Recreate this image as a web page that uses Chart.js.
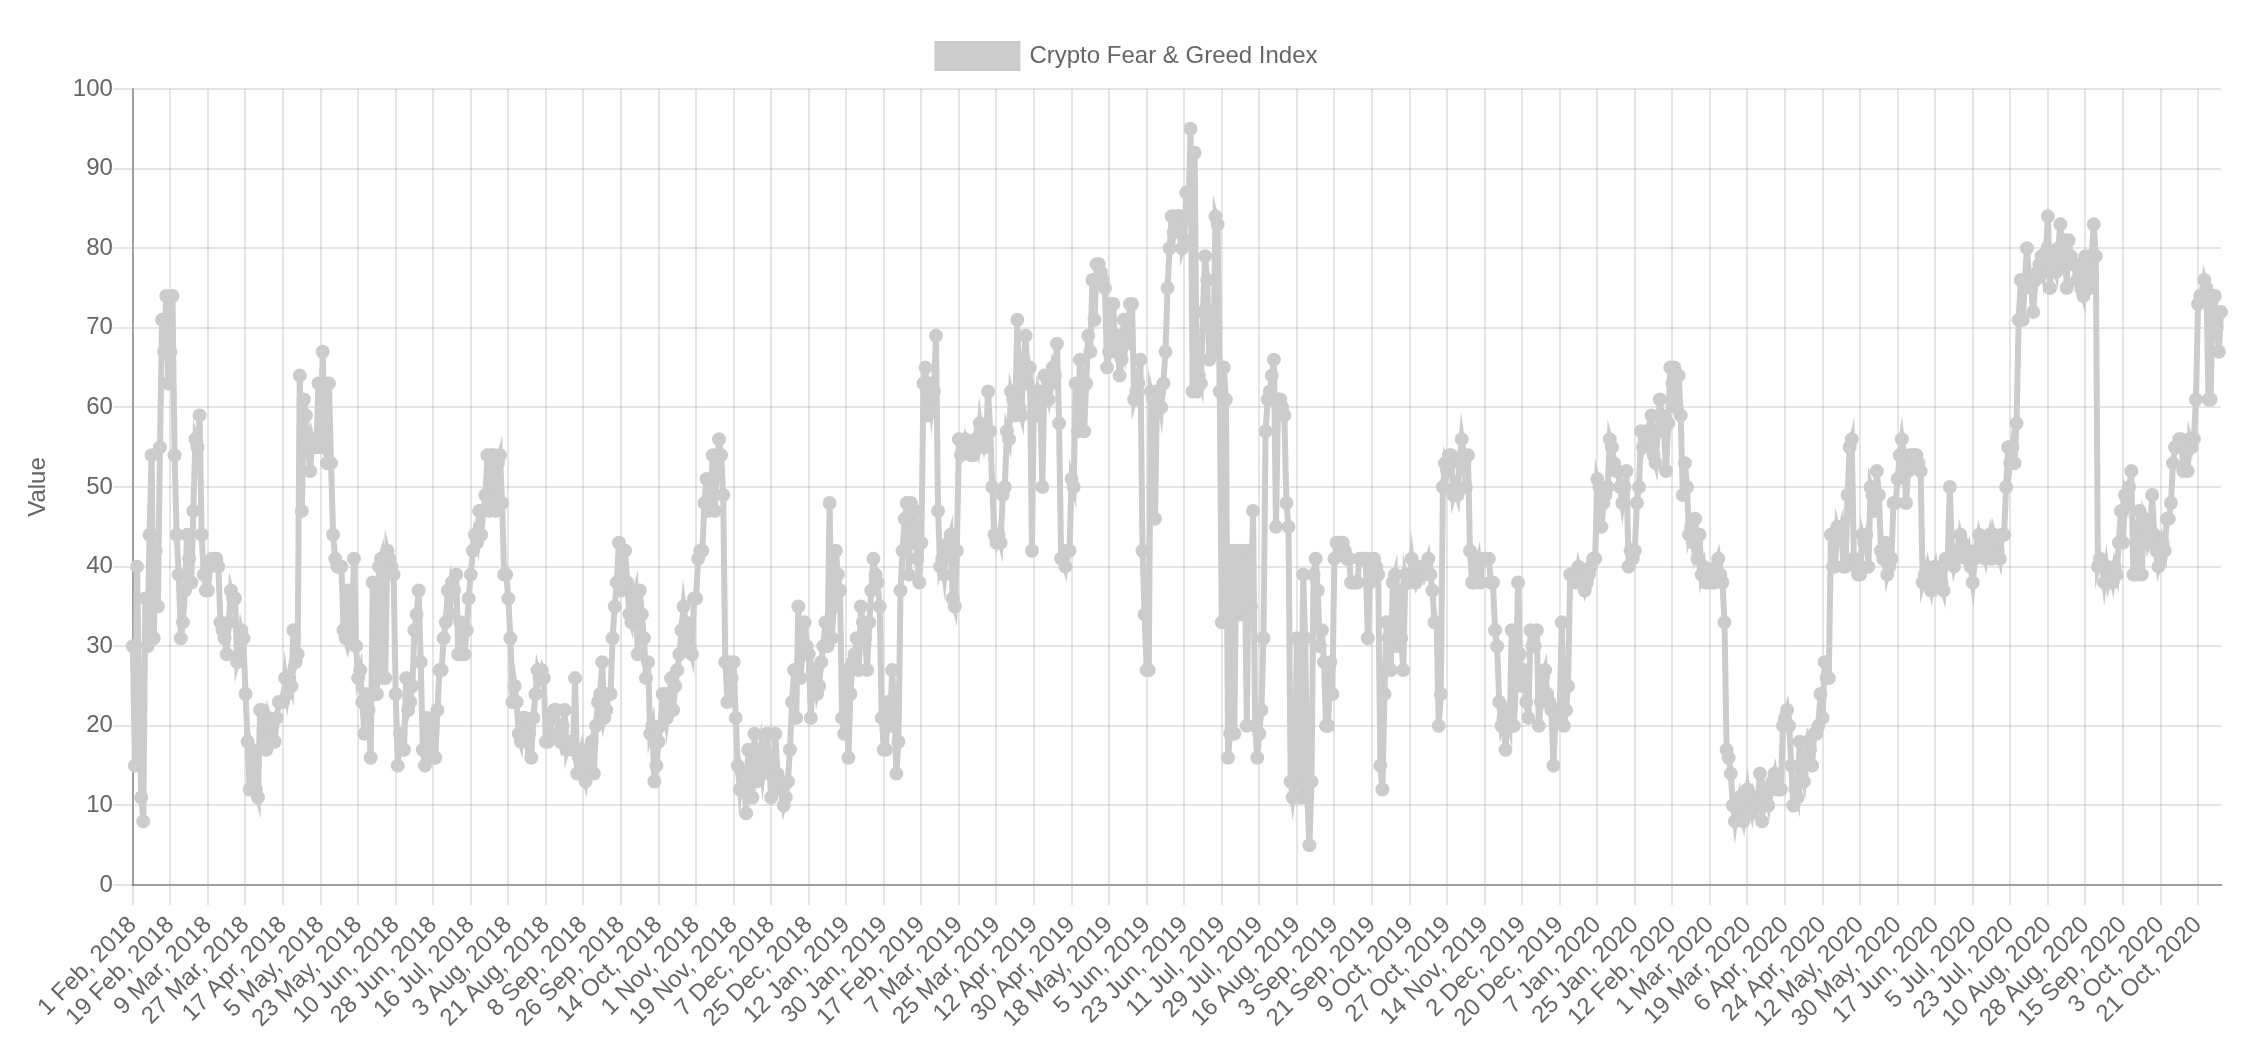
<!DOCTYPE html>
<html>
<head>
<meta charset="utf-8">
<title>Crypto Fear &amp; Greed Index</title>
<script src="https://cdn.jsdelivr.net/npm/chart.js@4.4.1/dist/chart.umd.min.js"></script>
<style>
  html, body { margin: 0; background: #fff; width: 2262px; height: 1046px; overflow: hidden; }
  #box { position: absolute; left: 16px; top: 16px; width: 2230px; height: 1023px; }
</style>
</head>
<body>
<div id="box"><canvas id="fearGreedChart"></canvas></div>
<script>
// daily labels run from 1 Feb 2018 to 1 Nov 2020, three April 2018 days have no reading
const firstDay = [2018, 1, 1];
const lastDay = [2020, 10, 1];
const missingDays = ['14 Apr, 2018', '15 Apr, 2018', '16 Apr, 2018'];
const monthNames = ['Jan', 'Feb', 'Mar', 'Apr', 'May', 'Jun', 'Jul', 'Aug', 'Sep', 'Oct', 'Nov', 'Dec'];
const labelEvery = 18;

const fear2018 = [
  30, 15, 40, 24, 11, 8, 36, 30, 44, 54, 31, 42, 35, 55, 71, 67, 74, 63, 67, 74, 54, 44, 39, 31, 33, 37, 44, 41,
  38, 47, 56, 55, 59, 44, 39, 37, 37, 40, 41, 41, 41, 40, 33, 32, 31, 29, 33, 37, 36, 36, 28, 29, 32, 31,
  24, 18, 12, 17, 16, 12, 11, 22, 22, 19, 17, 21, 20, 18, 18, 21, 23, 23,
  23, 26, 24, 26, 25, 32, 28, 29, 64, 47, 61, 59, 55, 52, 56, 55, 55, 63, 55, 67, 57, 53, 63, 53,
  44, 41, 40, 40, 40, 32, 31, 37, 31, 32, 41, 30, 26, 27, 23, 19, 24, 22, 16, 38,
  24, 24, 40, 41, 26, 26, 42, 41, 40, 39, 24, 15, 19, 17, 17, 26, 22, 23, 25, 32,
  34, 37, 28, 17, 15, 21, 16, 20, 16, 16, 22, 27, 27, 31, 33, 37, 34, 38, 37, 39,
  29, 33, 29, 29, 32, 36, 39, 42, 44, 43, 47, 44, 47, 49, 54, 47, 54, 54, 47, 53,
  54, 48, 39, 39, 36, 31, 23, 25, 23, 19,
  18, 21, 21, 18, 19, 16, 21, 24, 27, 26, 27, 26, 18, 18, 19, 21, 22, 22, 19, 18,
  20, 22, 17, 18, 18, 17, 26, 14, 16, 17, 14, 13, 15, 17, 18, 14, 20, 23, 24, 28,
  21, 22, 24, 24, 31, 35, 38, 43, 37, 42, 42, 38, 34, 33, 36, 37, 29, 37, 34, 31,
  26, 28, 19, 20, 13, 15, 18, 20, 24, 24, 21, 23, 26, 22, 25, 27, 29, 32, 35, 33,
  31, 30, 29, 36, 36, 41, 42, 42, 48, 51, 47, 49,
  54, 47, 52, 56, 54, 49, 28, 23, 28, 26, 28, 21, 15, 12, 14, 13, 9, 17, 14, 11,
  19, 13, 15, 17, 14, 16, 19, 15, 11, 14, 19, 14, 13, 12, 10, 11, 13, 17, 23, 27,
  21, 35, 26, 29, 33, 30, 29, 21, 27, 26, 24, 25, 28
];

const fear2019 = [
  30, 33, 30, 48, 31, 35, 42, 39, 37, 21, 19, 27, 16, 24, 28, 29, 31, 27, 35, 33,
  31, 27, 33, 37, 41, 39, 38, 35, 21, 17, 17, 23, 20, 27, 23, 14, 18, 37, 42,
  46, 48, 39, 48, 43, 47, 41, 38, 43, 63, 65, 59, 63, 60, 62, 69, 47, 40, 41, 39,
  42, 43, 44, 36, 35, 42, 56, 54, 55, 56, 55, 55, 54, 54, 56, 55, 58, 56, 55, 56,
  62, 57, 50, 44, 43, 44, 43, 49, 50, 57, 56, 62, 61, 59, 71, 60, 59, 66, 69, 63,
  65, 42, 62, 59, 62, 61, 50, 64, 62, 61, 63, 65, 64, 68, 58, 41, 41, 40, 42, 42,
  51, 50, 63, 57, 66, 63, 57, 63, 69, 67, 76, 71,
  78, 78, 77, 76, 75, 65, 67, 73, 73, 67, 69, 64, 66, 71, 68, 70, 73, 73, 61, 62,
  63, 66, 42, 34, 27, 27, 62, 61, 46, 62, 62, 60, 63, 67, 75, 80, 84, 82, 84, 84,
  84, 80, 81, 87, 84, 95, 62, 92, 62, 64, 63, 72, 79, 76, 66, 72, 67, 84, 83, 62,
  33, 65, 61, 16, 19, 42, 19, 42, 34, 42, 34, 42, 20, 42, 35, 47, 20, 16, 19, 22,
  31, 57, 61, 62, 64, 66, 45, 61, 61, 60, 59, 48,
  45, 13, 11, 13, 31, 13, 11, 39, 31, 11, 5, 13, 39, 41, 37, 30, 32, 28, 20, 20,
  28, 24, 41, 43, 43, 43, 43, 42, 41, 41, 38, 38, 38, 38, 41, 41, 41, 41, 31, 38,
  41, 41, 40, 39, 15, 12, 24, 33, 31, 27, 38, 39, 30, 37, 31, 27, 39, 38, 38, 41,
  39, 38, 39, 40, 40, 39, 40, 41, 39, 37, 33, 33, 20, 24, 50, 53, 52, 54, 54, 49,
  50, 49, 53, 56, 54, 50, 54, 42, 38, 38, 40, 41,
  38, 41, 41, 41, 41, 38, 38, 32, 30, 23, 20, 21, 17, 21, 20, 32, 20, 25, 38, 29,
  25, 27, 23, 21, 32, 30, 30, 32, 20, 23, 26, 27, 24, 23, 22, 15, 21, 22, 22, 33,
  20, 22, 25, 39, 39, 38, 38, 40, 39, 38
];

const fear2020 = [
  37, 38, 39, 40, 41, 41, 51, 50, 45, 48, 49, 50, 56, 55, 53, 52, 52, 50, 48, 50,
  52, 40, 42, 41, 42, 48, 50, 57, 55, 56, 57, 56, 59, 54, 53, 57, 61, 59, 57, 52,
  58, 65,
  63, 65, 60, 64, 59, 49, 53, 50, 44, 45, 43, 46, 41, 44, 39, 40, 38, 38, 39, 38,
  38, 40, 41, 39, 38, 33, 17, 16, 14, 10, 8, 10, 11, 9, 8, 10, 12, 10, 9, 11,
  10, 11, 14, 8, 12, 11, 10, 12, 13, 14, 12, 12, 12, 20, 21, 22, 20, 15, 10, 12,
  11, 18, 14, 13, 16, 18, 17, 15, 19, 19, 20, 24, 21, 28, 26, 26, 44, 40, 40, 45,
  44, 45, 40, 40, 49, 55, 56, 41, 40, 39, 39, 44,
  43, 44, 40, 50, 49, 47, 52, 49, 42, 41, 43, 39, 40, 41, 48, 48, 51, 54, 56, 54,
  48, 52, 54, 54, 54, 54, 53, 52, 38, 39, 40, 38, 37, 39, 40, 38, 39, 38, 37, 41,
  41, 50, 42, 40, 41, 42, 44, 43, 42, 41, 42, 40, 38, 41, 42, 44, 43, 42, 41, 43,
  44, 41, 44, 43, 42, 41, 44, 44, 50, 55, 53, 55, 53, 58, 71, 76, 71, 76, 80, 76,
  75, 72, 76, 77, 78, 79, 77, 79, 84, 75, 79, 78,
  77, 80, 83, 78, 81, 75, 81, 79, 78, 78, 76, 77, 75, 74, 79, 77, 75, 79, 83, 79,
  40, 41, 40, 38, 40, 38, 39, 38, 40, 39, 43, 47, 43, 49, 48, 50, 52, 39, 39, 45,
  47, 39, 46, 45, 43, 44, 49, 44, 42, 40, 41, 43, 42, 46, 46, 48, 53, 55, 55, 56,
  56, 52, 55, 52, 56, 55, 56, 61, 73, 74, 74, 76, 75, 61, 61, 74, 74, 70, 67, 72
];

const fearValues = fear2018.concat(fear2019, fear2020);

const dayLabels = [];
const day = new Date(Date.UTC(firstDay[0], firstDay[1], firstDay[2]));
const end = new Date(Date.UTC(lastDay[0], lastDay[1], lastDay[2]));
while (day <= end) {
  const text = day.getUTCDate() + ' ' + monthNames[day.getUTCMonth()] + ', ' + day.getUTCFullYear();
  if (!missingDays.includes(text)) dayLabels.push(text);
  day.setUTCDate(day.getUTCDate() + 1);
}

// sizes are doubled: the reference was drawn at a device pixel ratio of 2
Chart.defaults.font.family = "'Helvetica Neue', 'Helvetica', 'Arial', 'Liberation Sans', sans-serif";
Chart.defaults.font.size = 24;
Chart.defaults.color = '#666';

// a bit more room under the legend, and centre it on the whole canvas
const legendGap = {
  id: 'legendGap',
  beforeInit(chart) {
    const fit = chart.legend.fit;
    chart.legend.fit = function () {
      fit.call(this);
      this.height += 11;
    };
  },
  afterLayout(chart) {
    chart.legend.left += 9;
    chart.legend.right += 9;
  },
};

const gray = 'rgb(204, 204, 204)';
const fearChartObject = document.getElementById('fearGreedChart');

const fearChart = new Chart(fearChartObject, {
  type: 'line',
  data: {
    labels: dayLabels,
    datasets: [
      {
        label: 'Crypto Fear & Greed Index',
        data: fearValues,
        borderColor: gray,
        backgroundColor: gray,
        pointBackgroundColor: gray,
        pointBorderColor: gray,
        borderWidth: 6,
        pointRadius: 6,
        pointBorderWidth: 2,
        fill: false,
        tension: 0,
      },
    ],
  },
  plugins: [legendGap],
  options: {
    responsive: true,
    maintainAspectRatio: false,
    devicePixelRatio: 1,
    animation: false,
    layout: { padding: { top: 8, right: 25 } },
    plugins: {
      legend: {
        labels: { boxWidth: 80, boxHeight: 24, padding: 20 },
      },
      tooltip: { enabled: false },
    },
    scales: {
      x: {
        grid: { color: 'rgba(0,0,0,0.1)', lineWidth: 2, tickLength: 20 },
        border: { color: 'rgba(0,0,0,0.3)', width: 2 },
        ticks: {
          autoSkip: false,
          minRotation: 45,
          maxRotation: 45,
          padding: 6,
          callback: function (value, index) {
            return index % labelEvery === 0 ? this.getLabelForValue(value) : null;
          },
        },
      },
      y: {
        min: 0,
        max: 100,
        grid: { color: 'rgba(0,0,0,0.1)', lineWidth: 2, tickLength: 20 },
        border: { color: 'rgba(0,0,0,0.3)', width: 2 },
        ticks: { stepSize: 10, padding: 0 },
        title: { display: true, text: 'Value', padding: { top: 8, bottom: 20 } },
      },
    },
  },
});
</script>
</body>
</html>
